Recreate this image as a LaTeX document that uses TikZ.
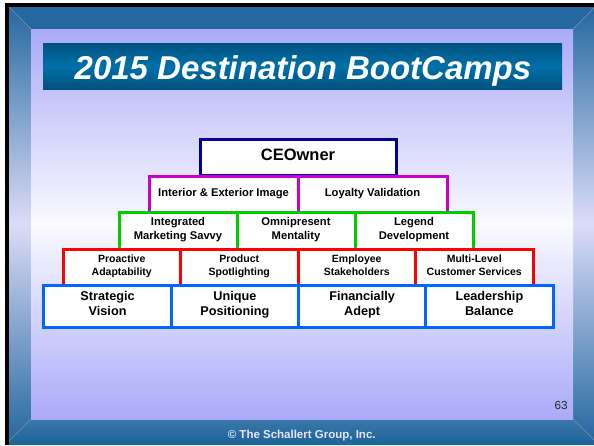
\documentclass[tikz,border=0pt]{standalone}
\usepackage{fontspec}
\setmainfont{Liberation Sans}
\definecolor{frameblue}{HTML}{2568A0}
\definecolor{framedeep}{HTML}{1C6396}
\definecolor{framepale}{HTML}{DCDCF8}
\definecolor{panelblue}{HTML}{AAAAF8}
\definecolor{panelpale}{HTML}{FAFAFF}
\definecolor{bannerdark}{HTML}{00527F}
\definecolor{bannerlight}{HTML}{0070A8}
\definecolor{seam}{HTML}{8C8C9C}
\definecolor{ceoline}{HTML}{000099}
\definecolor{imageline}{HTML}{CC00CC}
\definecolor{mindline}{HTML}{00CC00}
\definecolor{peopleline}{HTML}{FF0000}
\definecolor{baseline}{HTML}{0066FF}

\begin{document}
\begin{tikzpicture}[x=1pt,y=-1pt,
  brick/.style={draw,fill=white,line width=3pt,inner sep=0pt,outer sep=0pt,align=center,
    execute at begin node=\strut,execute at end node=\strut},
  toprow/.style={brick,draw=ceoline,minimum width=196pt,minimum height=36pt,font=\bfseries\fontsize{16.5}{18}\selectfont},
  imagerow/.style={brick,draw=imageline,minimum width=149pt,minimum height=36pt,font=\bfseries\fontsize{11.2}{14}\selectfont},
  mindrow/.style={brick,draw=mindline,minimum width=118pt,minimum height=38pt,font=\bfseries\fontsize{11.2}{14}\selectfont},
  peoplerow/.style={brick,draw=peopleline,minimum width=117.5pt,minimum height=36pt,font=\bfseries\fontsize{10.5}{13.3}\selectfont},
  baserow/.style={brick,draw=baseline,minimum width=127.25pt,minimum height=42pt,font=\bfseries\fontsize{12.7}{15}\selectfont}]
\useasboundingbox (0,0) rectangle (594,445);
% slide frame
\fill[black] (5,3) rectangle (594,445);
\fill[frameblue] (9,7) rectangle (594,445);
\shade[top color=frameblue!90!white,bottom color=framedeep] (31,419)--(573,419)--(594,440)--(594,445)--(9,445)--(9,441)--cycle;
\shade[top color=frameblue,bottom color=frameblue,middle color=framepale] (9,7)--(31,29)--(31,419)--(9,441)--cycle;
\shade[top color=frameblue,bottom color=frameblue,middle color=framepale] (594,7)--(573,29)--(573,419)--(594,440)--cycle;
\draw[seam] (9,7)--(31,29) (594,8)--(573,29) (573,419)--(594,440) (31,419)--(9,441);
\shade[top color=panelblue,bottom color=panelblue,middle color=panelpale] (31,29) rectangle (573,419);
% title bar
\shade[top color=bannerdark,bottom color=bannerdark,middle color=bannerlight] (43,43) rectangle (562,89);
\node[anchor=base,text=white,font=\bfseries\itshape\fontsize{33}{36}\selectfont] (title) at (303,79) {2015 Destination BootCamps};

% pyramid, top down
\node[toprow] (ceo) at (298,157) {CEOwner};
\node[imagerow] (image) at (223.5,194) {Interior \& Exterior Image};
\node[imagerow] (loyalty) at (372.5,194) {Loyalty Validation};
\node[mindrow] (savvy) at (178,231) {Integrated\\Marketing Savvy};
\node[mindrow] (mentality) at (296,231) {Omnipresent\\Mentality};
\node[mindrow] (legend) at (414,231) {Legend\\Development};
\node[peoplerow] (adapt) at (121.75,267) {Proactive\\Adaptability};
\node[peoplerow] (spot) at (239.25,267) {Product\\Spotlighting};
\node[peoplerow] (stake) at (356.75,267) {Employee\\Stakeholders};
\node[peoplerow] (service) at (474.25,267) {Multi-Level\\Customer Services};
\node[baserow] (vision) at (107.6,306) {Strategic\\Vision};
\node[baserow] (position) at (234.9,306) {Unique\\Positioning};
\node[baserow] (adept) at (362.1,306) {Financially\\Adept};
\node[baserow] (balance) at (489.4,306) {Leadership\\Balance};

\node[anchor=base,text=black!85,font=\fontsize{11.7}{13}\selectfont] (pageno) at (561,409) {63};
\node[anchor=base,text=white!90!blue,font=\bfseries\fontsize{11.5}{13}\selectfont] (footer) at (301.7,438.3) {© The Schallert Group, Inc.};
\end{tikzpicture}
\end{document}
